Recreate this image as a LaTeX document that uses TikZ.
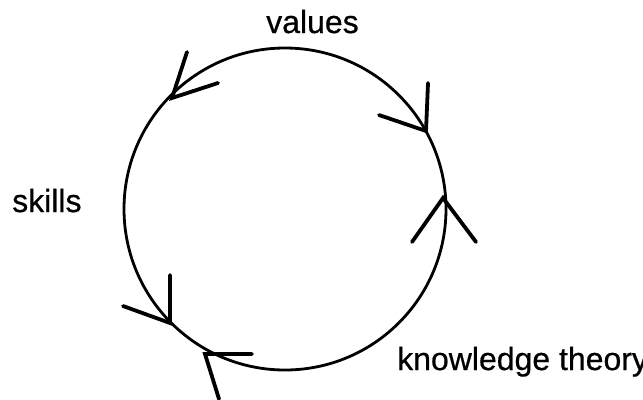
\documentclass[tikz,border=0pt]{standalone}
\usepackage{fontspec}
\setmainfont{Liberation Sans}
\newfontfamily\heavysans[FakeBold=0.6]{Liberation Sans}
\begin{document}
\begin{tikzpicture}[x=1bp,y=-1bp,
  ring/.style={line width=2.8bp},
  vhead/.style={line width=3.8bp,line cap=round,line join=miter},
  lbl/.style={anchor=base west,inner sep=0pt,font=\heavysans\fontsize{32bp}{36bp}\selectfont}]
\useasboundingbox (0,0) rectangle (643,399);
\clip (0,0) rectangle (643,399);
\coordinate (c) at (285,209);
\draw[ring] (c) circle[radius=161];
% arrowheads
\coordinate (t1) at (172,98);  \coordinate (a1) at (187,52);  \coordinate (b1) at (218,83);
\coordinate (t2) at (426,131); \coordinate (a2) at (428,83);  \coordinate (b2) at (379,115);
\coordinate (t3) at (443,198); \coordinate (a3) at (412,242); \coordinate (b3) at (476,242);
\coordinate (t4) at (170,323); \coordinate (a4) at (170,275); \coordinate (b4) at (123,306);
\coordinate (t5) at (205,354); \coordinate (a5) at (252,354); \coordinate (b5) at (219,399);
\draw[vhead] (a1) -- (t1) -- (b1);
\draw[vhead] (a2) -- (t2) -- (b2);
\draw[vhead] (a3) -- (t3) -- (b3);
\draw[vhead] (a4) -- (t4) -- (b4);
\draw[vhead] (a5) -- (t5) -- (b5);
% labels
\node[lbl] (values) at (266,33) {values};
\node[lbl] (skills) at (12,212) {skills};
\node[lbl] (know) at (397,370) {knowledge theory};
\end{tikzpicture}
\end{document}
